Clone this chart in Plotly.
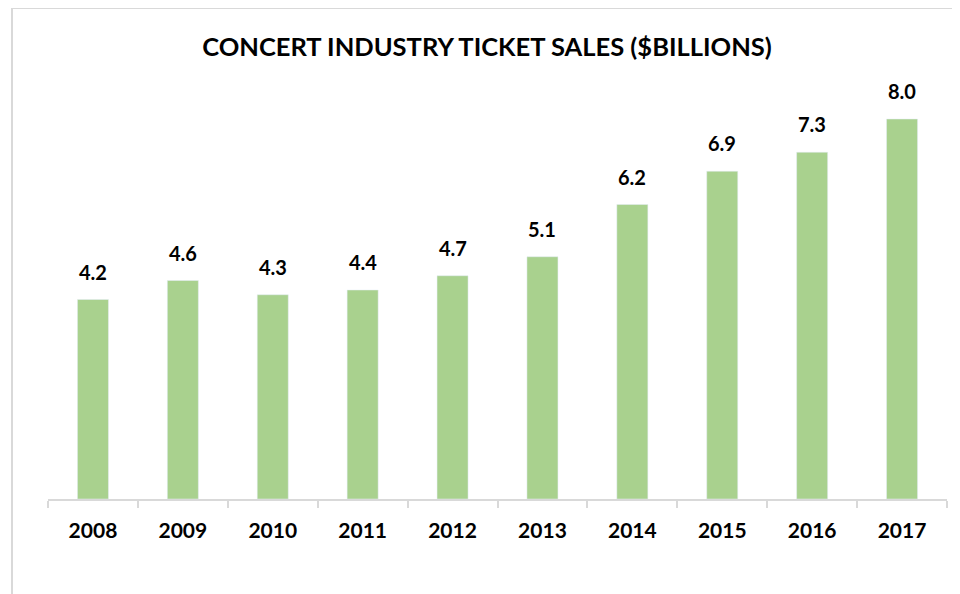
import plotly.graph_objects as go

years = ["2008", "2009", "2010", "2011", "2012", "2013", "2014", "2015", "2016", "2017"]
sales = [4.2, 4.6, 4.3, 4.4, 4.7, 5.1, 6.2, 6.9, 7.3, 8.0]
title_text = "CONCERT INDUSTRY TICKET SALES ($BILLIONS)"

FONT = "Lato"
BAR = "#a9d18e"
GRID = "#d9d9d9"

fig = go.Figure()
fig.add_trace(go.Bar(x=years, y=sales, marker_color=BAR, width=0.345,
                     hoverinfo="x+y"))

for i, v in enumerate(sales):
    fig.add_annotation(x=i, y=v, text=f"{v:.1f}", showarrow=False,
                       yanchor="bottom", yshift=14,
                       font=dict(family=FONT, size=20, color="#000000", weight="bold"))

# page body has an 8px margin, so figure coordinates are offset by 8px
OFF = 8
W, H = 960, 594
L = 48 - OFF
R = W - (947 - OFF)
T = 80 - OFF
B = H - (499 - OFF)
pw = W - L - R
ph = H - T - B

fig.update_layout(
    width=W, height=H,
    margin=dict(l=L, r=R, t=T, b=B),
    paper_bgcolor="white", plot_bgcolor="white",
    showlegend=False,
    title=dict(text=f"<b>{title_text}</b>", x=(487 - OFF) / W, xanchor="center",
               y=1 - (47 - OFF) / H, yanchor="middle",
               font=dict(family=FONT, size=25.5, color="#000000", weight="bold")),
    xaxis=dict(type="category", range=[-0.5, len(years) - 0.5],
               showline=True, linecolor=GRID, linewidth=1.5,
               ticks="outside", ticklen=7, tickcolor=GRID, tickwidth=1.5,
               tickson="boundaries", tickangle=0, ticklabelstandoff=12,
               tickfont=dict(family=FONT, size=21, color="#000000", weight="bold"),
               showgrid=False, fixedrange=True),
    yaxis=dict(range=[0, ph / 47.5], visible=False, showgrid=False, fixedrange=True),
    shapes=[
        dict(type="line", xref="paper", yref="paper",
             x0=(12 - 48) / pw, x1=(12 - 48) / pw, y0=(499 - 8) / ph, y1=-(B + 10) / ph,
             line=dict(color=GRID, width=2)),
        dict(type="line", xref="paper", yref="paper",
             x0=(12 - 48) / pw, x1=(W + 10 - L) / pw, y0=(499 - 8) / ph, y1=(499 - 8) / ph,
             line=dict(color=GRID, width=2)),
    ],
)

fig.write_html("out.html")
